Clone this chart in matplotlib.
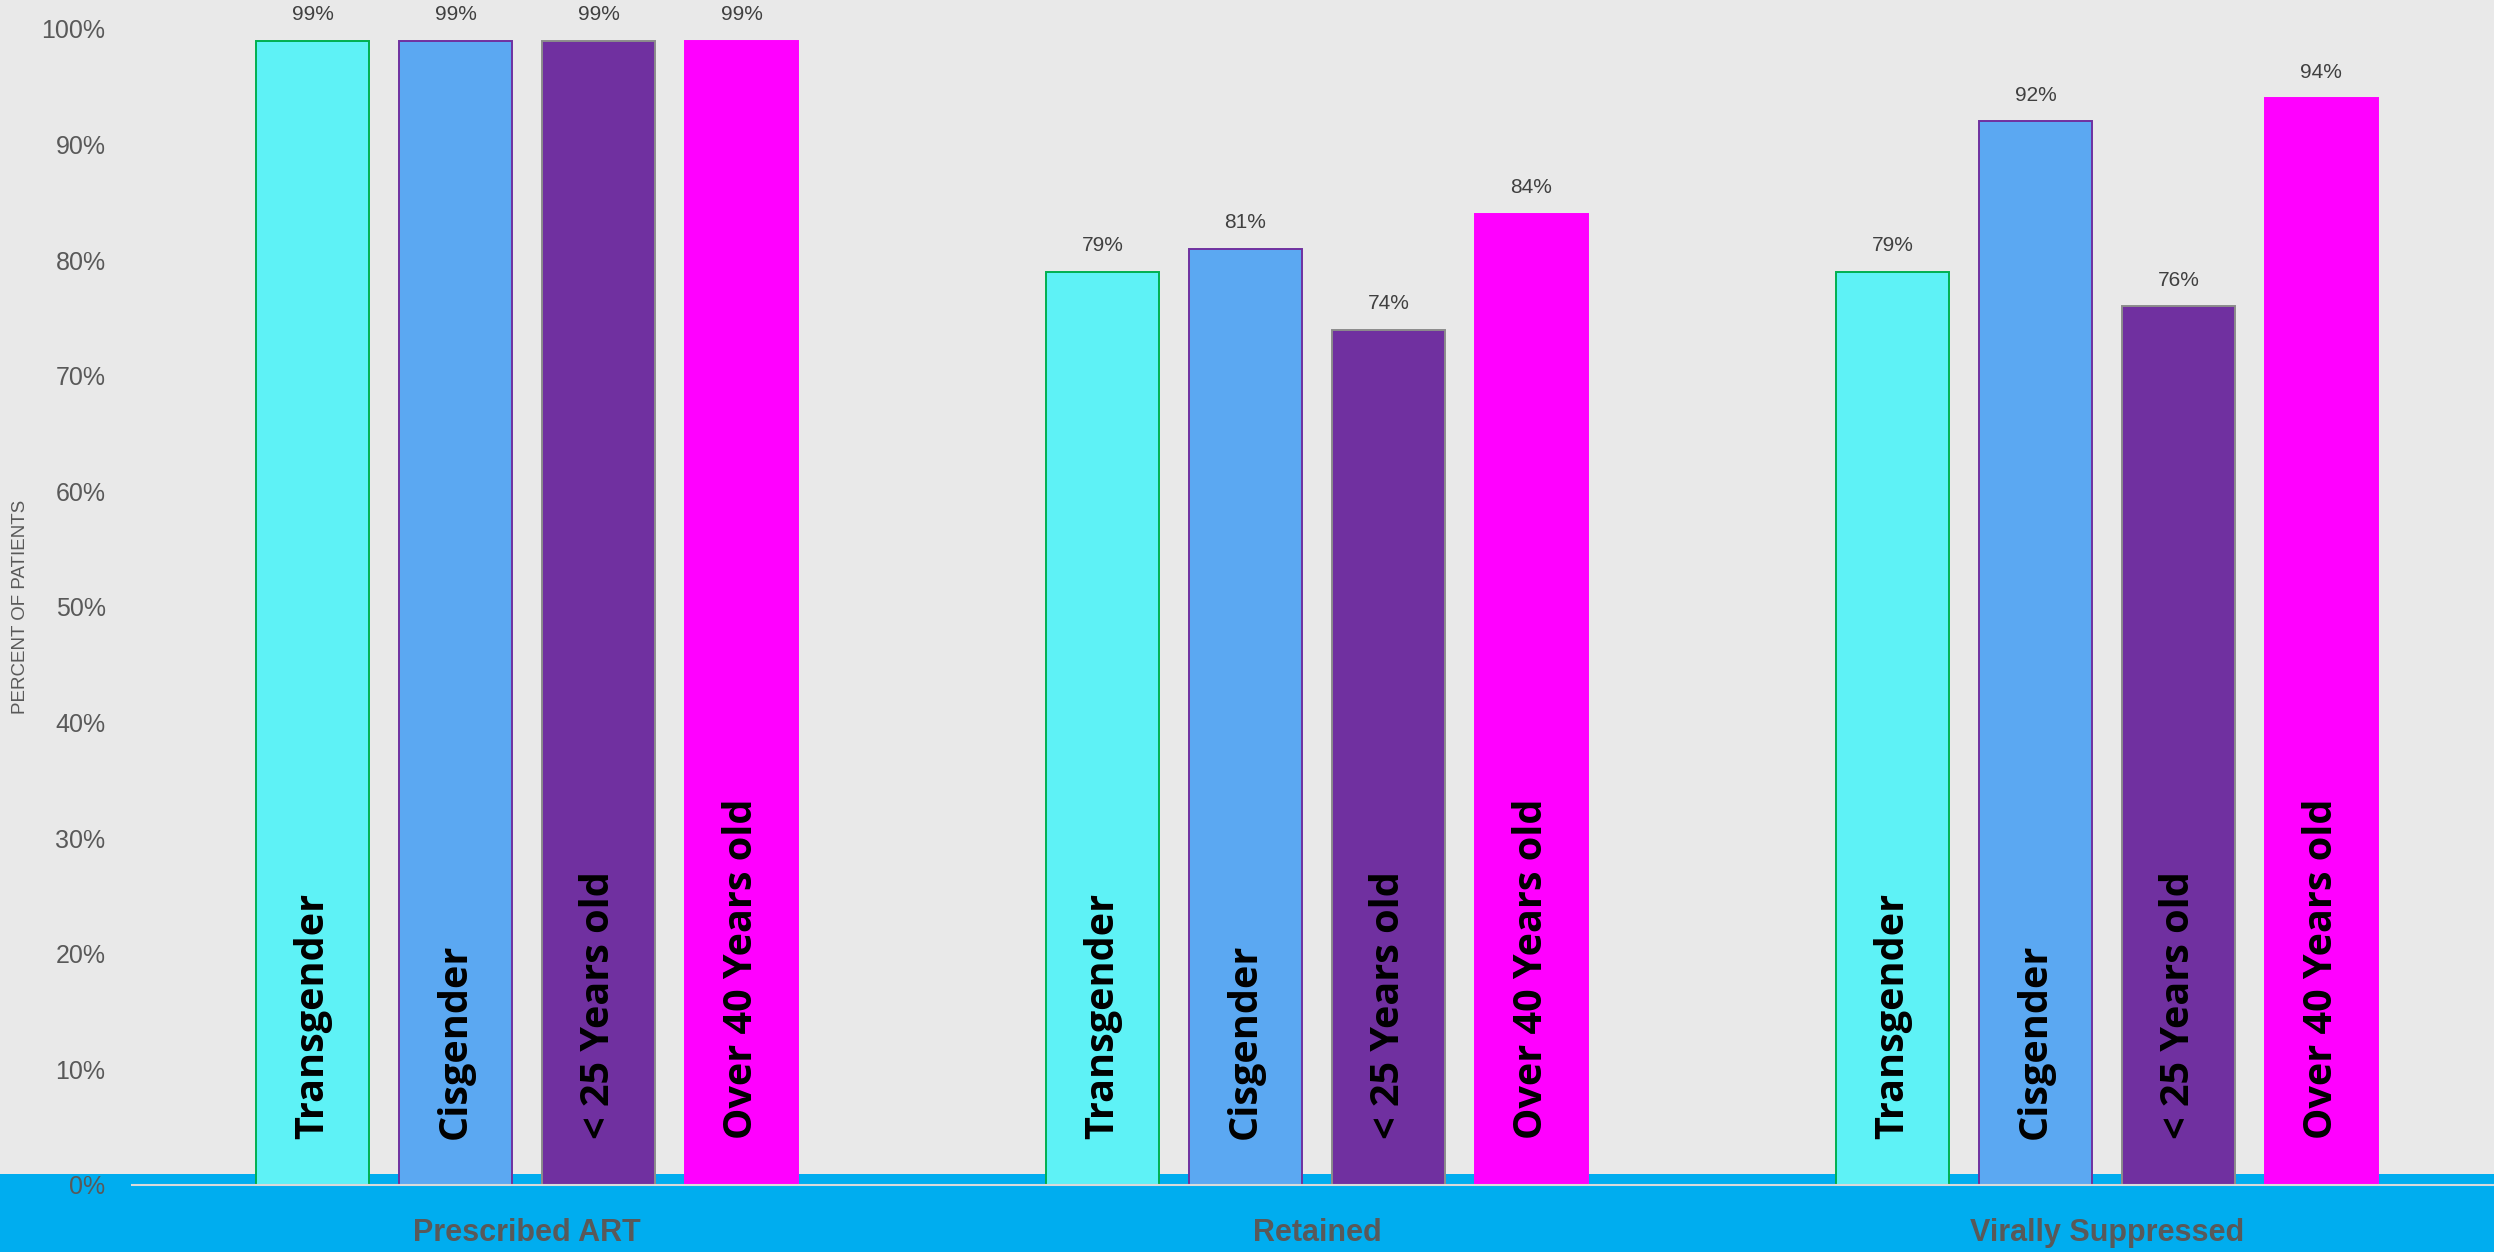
import numpy as np
import matplotlib
matplotlib.use("Agg")
from matplotlib import pyplot as plt
from matplotlib.patches import Rectangle
from matplotlib.ticker import PercentFormatter

# 数据
categories = ["Prescribed ART", "Retained", "Virally Suppressed"]
groups = ["Transgender", "Cisgender", "< 25 Years old", "Over 40 Years old"]
transgender = [0.99, 0.79, 0.79]
cisgender = [0.99, 0.81, 0.92]
under_25 = [0.99, 0.74, 0.76]
over_40 = [0.99, 0.84, 0.94]
series = [transgender, cisgender, under_25, over_40]

fill_colors = ["#5EF2F6", "#5BA8F2", "#7030A0", "#FF00FF"]
edge_colors = ["#00B050", "#7030A0", "#8C8C8C", "#FF00FF"]

narrow = ["Liberation Sans", "DejaVu Sans"]
bold_font = ["Open Sans", "DejaVu Sans"]
gray = "#595959"

W, H = 2494, 1252
fig = plt.figure(figsize=(W / 100, H / 100), dpi=100, facecolor="#E9E9E9")

# 底部蓝色条带
fig.patches.append(Rectangle((0, 0), 1, 78 / H, transform=fig.transFigure,
                             facecolor="#00ADEF", edgecolor="none", zorder=0))

ax = fig.add_axes([132 / W, 67 / H, (W - 132) / W, 1156 / H])
ax.set_facecolor("none")
ax.set_zorder(1)

x = np.arange(len(categories))
step, width = 0.181, 0.143
for j, vals in enumerate(series):
    xs = x + (j - 1.5) * step
    ax.bar(xs, vals, width, color=fill_colors[j], edgecolor=edge_colors[j],
           linewidth=1.4, zorder=2)
    for xi, v in zip(xs, vals):
        ax.annotate(f"{v:.0%}", (xi, v), xytext=(0, 12), textcoords="offset points",
                    ha="center", va="bottom", fontsize=15, color="#404040", family=narrow)
        ax.text(xi, 0.04, groups[j], rotation=90, ha="center", va="bottom",
                fontsize=28.5, fontweight="bold", color="black", family=bold_font, zorder=3)

ax.set_xlim(-0.5, 2.49)
ax.set_ylim(0, 1)
ax.set_yticks(np.arange(0, 1.01, 0.1))
ax.yaxis.set_major_formatter(PercentFormatter(1.0, decimals=0))
ax.set_xticks(x)
ax.set_xticklabels(categories, fontsize=22, fontweight="bold", color=gray, family=narrow)
ax.tick_params(axis="x", length=0, pad=24)
ax.tick_params(axis="y", length=0, pad=19, labelsize=18, labelcolor=gray)
for lbl in ax.get_yticklabels():
    lbl.set_family(narrow)

for s in ["left", "top", "right"]:
    ax.spines[s].set_visible(False)
ax.spines["bottom"].set_color("#DADADA")
ax.spines["bottom"].set_linewidth(1.5)
ax.spines["bottom"].set_zorder(4)

fig.text(21 / W, 1 - 607 / H, "PERCENT OF PATIENTS", rotation=90, ha="center", va="center",
         fontsize=13.5, color=gray, family=narrow)

fig.savefig("out.png", dpi=100, facecolor=fig.get_facecolor())
